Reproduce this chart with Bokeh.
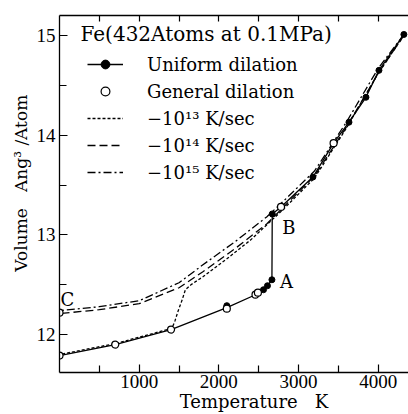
from bokeh.plotting import figure
from bokeh.models import Range1d, FixedTicker, LinearAxis, Legend, LegendItem, Label
from bokeh.core.properties import value
from bokeh.embed import file_html
from bokeh.resources import INLINE

# heating path (solid line) through all computed states
curve_T = [0, 700, 1400, 2100, 2460, 2560, 2610, 2666, 2670, 2780, 3180, 3440, 3633, 3846, 4009, 4322]
curve_V = [11.79, 11.90, 12.05, 12.27, 12.40, 12.45, 12.49, 12.55, 13.21, 13.28, 13.58, 13.92, 14.13, 14.38, 14.65, 15.01]

# uniform dilation (filled) points
uniform_T = [2100, 2560, 2610, 2666, 2670, 3180, 3633, 3846, 4009, 4322]
uniform_V = [12.29, 12.45, 12.49, 12.55, 13.21, 13.58, 14.13, 14.38, 14.65, 15.01]

# general dilation (open) points
general_T = [0, 700, 1400, 2100, 2460, 2490, 2780, 3440, 0]
general_V = [11.79, 11.90, 12.05, 12.26, 12.40, 12.42, 13.28, 13.92, 12.22]

# cooling runs
rate13_T = [4322, 4000, 3600, 3200, 2800, 2600, 2400, 2100, 1800, 1650, 1580, 1540, 1490, 1450, 1420, 1400, 700, 0]
rate13_V = [15.00, 14.62, 14.07, 13.57, 13.25, 13.10, 12.95, 12.76, 12.58, 12.50, 12.45, 12.35, 12.24, 12.14, 12.08, 12.06, 11.91, 11.80]

rate14_T = [4322, 4000, 3600, 3200, 2800, 2600, 2200, 1800, 1500, 1000, 500, 0]
rate14_V = [15.00, 14.62, 14.08, 13.59, 13.27, 13.11, 12.86, 12.63, 12.47, 12.31, 12.25, 12.21]

rate15_T = [4322, 4000, 3600, 3200, 2800, 2600, 2200, 1800, 1500, 1000, 500, 0]
rate15_V = [15.01, 14.67, 14.13, 13.64, 13.33, 13.18, 12.93, 12.70, 12.52, 12.34, 12.28, 12.24]

x_ticks = [1000, 2000, 3000, 4000]
x_minor = [500, 1500, 2500, 3500]
top_ticks = [500, 1000, 1500, 2000, 2500, 3000, 3500, 4000]
y_ticks = [12, 13, 14, 15]
y_minor = [12.5, 13.5, 14.5]

title_text = "Fe(432Atoms at 0.1MPa)"
legend_labels = ["Uniform dilation", "General dilation",
                 "\u221210\u00b9\u00b3 K/sec", "\u221210\u00b9\u2074 K/sec", "\u221210\u00b9\u2075 K/sec"]
NB = "\u00a0"
x_label = NB * 7 + "Temperature" + NB * 3 + "K"
y_label = NB * 4 + "Volume" + NB * 3 + "Ang\u00b3" + NB + "/Atom"

SERIF = "DejaVu Serif"
NUMF = "Liberation Serif"

W, H = 408, 414
BL, BR, BT, BB = 59, 0, 15, 41
FW, FH = W - BL - BR, H - BT - BB

p = figure(width=W, height=H, x_range=Range1d(0, 4380), y_range=Range1d(11.62, 15.2),
           output_backend="svg", toolbar_location=None,
           min_border_left=BL, min_border_right=BR, min_border_top=BT, min_border_bottom=BB)
p.grid.visible = False
p.outline_line_color = None
p.background_fill_color = "white"
p.border_fill_color = "white"

lw = 1.3
r15 = p.line(rate15_T, rate15_V, line_color="black", line_width=lw, line_dash="8 3 2 3")
r14 = p.line(rate14_T, rate14_V, line_color="black", line_width=lw, line_dash="8 4")
r13 = p.line(rate13_T, rate13_V, line_color="black", line_width=lw, line_dash="3 2")
rc = p.line(curve_T, curve_V, line_color="black", line_width=lw)
ru = p.scatter(uniform_T, uniform_V, marker="circle", size=6, fill_color="black", line_color="black")
rg = p.scatter(general_T, general_V, marker="circle", size=7, fill_color="white", line_color="black", line_width=1.2)

# point labels A, B, C anchored to the data points
p.text([curve_T[7]], [curve_V[7]], text=["A"], x_offset=8, y_offset=2, text_font=value(SERIF),
       text_font_size="18px", text_baseline="middle", text_align="left")
p.text([curve_T[8]], [curve_V[8]], text=["B"], x_offset=10, y_offset=14, text_font=value(SERIF),
       text_font_size="18px", text_baseline="middle", text_align="left")
p.text([general_T[-1]], [general_V[-1]], text=["C"], x_offset=1, y_offset=-13, text_font=value(SERIF),
       text_font_size="18px", text_baseline="middle", text_align="left")

# axes
for ax in (p.xaxis[0], p.yaxis[0]):
    ax.major_tick_in = 8
    ax.major_tick_out = 0
    ax.minor_tick_in = 7
    ax.minor_tick_out = 0
    ax.axis_line_width = 1.3
    ax.major_tick_line_width = 1.2
    ax.minor_tick_line_width = 1.2
    ax.major_label_text_font = NUMF
    ax.major_label_text_font_size = "19px"
    ax.major_label_text_color = "black"
    ax.axis_label_text_font = SERIF
    ax.axis_label_text_font_style = "normal"
    ax.axis_label_text_color = "black"

p.xaxis.ticker = FixedTicker(ticks=x_ticks, minor_ticks=x_minor)
p.yaxis.ticker = FixedTicker(ticks=y_ticks, minor_ticks=y_minor)
p.xaxis.major_label_standoff = 2
p.xaxis.axis_label_standoff = 0
p.xaxis.axis_label_text_font_size = "18px"
p.yaxis.major_label_standoff = 4
p.yaxis.axis_label_standoff = 3
p.yaxis.axis_label_text_font_size = "17px"
p.xaxis.axis_label = x_label
p.yaxis.axis_label = y_label

top = LinearAxis(ticker=FixedTicker(ticks=[], minor_ticks=top_ticks),
                 major_tick_in=0, major_tick_out=0, minor_tick_in=6, minor_tick_out=0,
                 axis_line_width=1.3, minor_tick_line_width=1.2)
p.add_layout(top, "above")

legend = Legend(items=[
    LegendItem(label=legend_labels[0], renderers=[rc, ru]),
    LegendItem(label=legend_labels[1], renderers=[rg]),
    LegendItem(label=legend_labels[2], renderers=[r13]),
    LegendItem(label=legend_labels[3], renderers=[r14]),
    LegendItem(label=legend_labels[4], renderers=[r15]),
], location=(28, 189), margin=0, padding=0, spacing=5,
   glyph_width=36, glyph_height=22, label_height=22, label_standoff=24,
   label_text_font=SERIF, label_text_font_size="18px", label_text_color="black",
   border_line_color=None, background_fill_alpha=0)
p.add_layout(legend, "center")

p.add_layout(Label(x=21, y=FH - 19, x_units="screen", y_units="screen", text=title_text,
                   text_font=SERIF, text_font_size="20px", text_baseline="middle",
                   text_color="black"))

open("out.html", "w").write(file_html(p, INLINE))
